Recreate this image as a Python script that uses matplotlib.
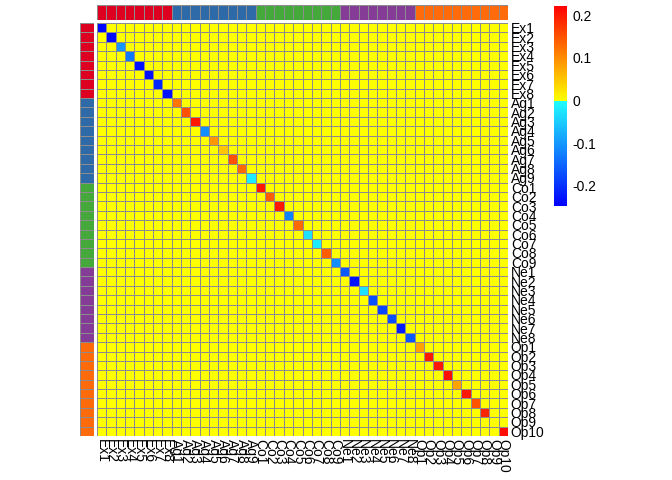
import numpy as np
import matplotlib
matplotlib.use("Agg")
import matplotlib.pyplot as plt
from matplotlib.colors import ListedColormap, Normalize

plt.rcParams['font.family'] = ['Liberation Sans', 'DejaVu Sans']

# trait groups and item labels
groups = ["Ex", "Ag", "Co", "Ne", "Op"]
group_sizes = [8, 9, 9, 8, 10]
group_colors = ["#DD0020", "#2E6AA8", "#44A83A", "#853C96", "#FF6A0A"]
labels = [g + str(i + 1) for g, n in zip(groups, group_sizes) for i in range(n)]

# diagonal values (off-diagonal cells are all 0)
ex_diag = [-0.24, -0.24, -0.10, -0.13, -0.23, -0.23, -0.21, -0.23]
ag_diag = [0.12, 0.15, 0.20, -0.11, 0.09, 0.05, 0.15, 0.13, -0.02]
co_diag = [0.20, 0.14, 0.20, -0.12, 0.13, -0.03, -0.02, 0.14, -0.11]
ne_diag = [-0.16, -0.23, -0.03, -0.17, -0.18, -0.17, -0.22, -0.16]
op_diag = [0.08, 0.20, 0.20, 0.21, 0.08, 0.20, 0.15, 0.19, 0.0, 0.21]

vmin, vmax = -0.248, 0.222
cbar_ticks = [-0.2, -0.1, 0, 0.1, 0.2]
cbar_ticklabels = ["-0.2", "-0.1", "0", "0.1", "0.2"]

diag = np.array(ex_diag + ag_diag + co_diag + ne_diag + op_diag)
n = len(labels)
mat = np.diag(diag)

# split colour map: blue -> cyan below zero, yellow -> red above
N = 1024
f0 = (0 - vmin) / (vmax - vmin)
n_neg = int(f0 * N)
neg = np.column_stack([np.linspace(0, 0.13, n_neg), np.linspace(0, 1, n_neg),
                       np.ones(n_neg)])
pos = np.column_stack([np.ones(N - n_neg), np.linspace(1, 0, N - n_neg),
                       np.zeros(N - n_neg)])
cmap = ListedColormap(np.vstack([neg, pos]))
norm = Normalize(vmin=vmin, vmax=vmax)

W, H = 672, 480
fig = plt.figure(figsize=(W / 100, H / 100), dpi=100)

def box(x0, y0, x1, y1):
    return [x0 / W, 1 - y1 / H, (x1 - x0) / W, (y1 - y0) / H]

edge = "#8C8C8C"
lw = 0.7

# main heatmap
ax = fig.add_axes(box(97, 23, 508, 436))
ax.pcolormesh(mat, cmap=cmap, norm=norm, edgecolors=edge, linewidth=lw)
ax.set_xlim(0, n)
ax.set_ylim(n, 0)
for s in ax.spines.values():
    s.set_visible(False)
ax.yaxis.tick_right()
ax.set_yticks(np.arange(n) + 0.5)
ax.set_yticklabels(labels, fontsize=10)
ax.set_xticks(np.arange(n) + 0.5)
ax.set_xticklabels(labels, fontsize=10, rotation=270, va="top", ha="center")
ax.tick_params(length=0, pad=2)

# group annotation codes
group_idx = np.repeat(np.arange(len(groups)), group_sizes)
ann_cmap = ListedColormap(group_colors)

axc = fig.add_axes(box(97, 5, 508, 20))
axc.pcolormesh(group_idx[None, :], cmap=ann_cmap, vmin=-0.5,
               vmax=len(groups) - 0.5, edgecolors=edge, linewidth=lw)
axc.set_xlim(0, n)
axc.set_axis_off()

axr = fig.add_axes(box(80, 23, 94, 436))
axr.pcolormesh(group_idx[:, None], cmap=ann_cmap, vmin=-0.5,
               vmax=len(groups) - 0.5, edgecolors=edge, linewidth=lw)
axr.set_ylim(n, 0)
axr.set_axis_off()

# colour bar
cax = fig.add_axes(box(554, 6, 567, 206))
cb = fig.colorbar(plt.cm.ScalarMappable(norm=norm, cmap=cmap), cax=cax)
cb.outline.set_visible(False)
cb.set_ticks(cbar_ticks)
cb.set_ticklabels(cbar_ticklabels)
cax.tick_params(length=0, labelsize=10, pad=4)

fig.savefig("out.png", dpi=100)
